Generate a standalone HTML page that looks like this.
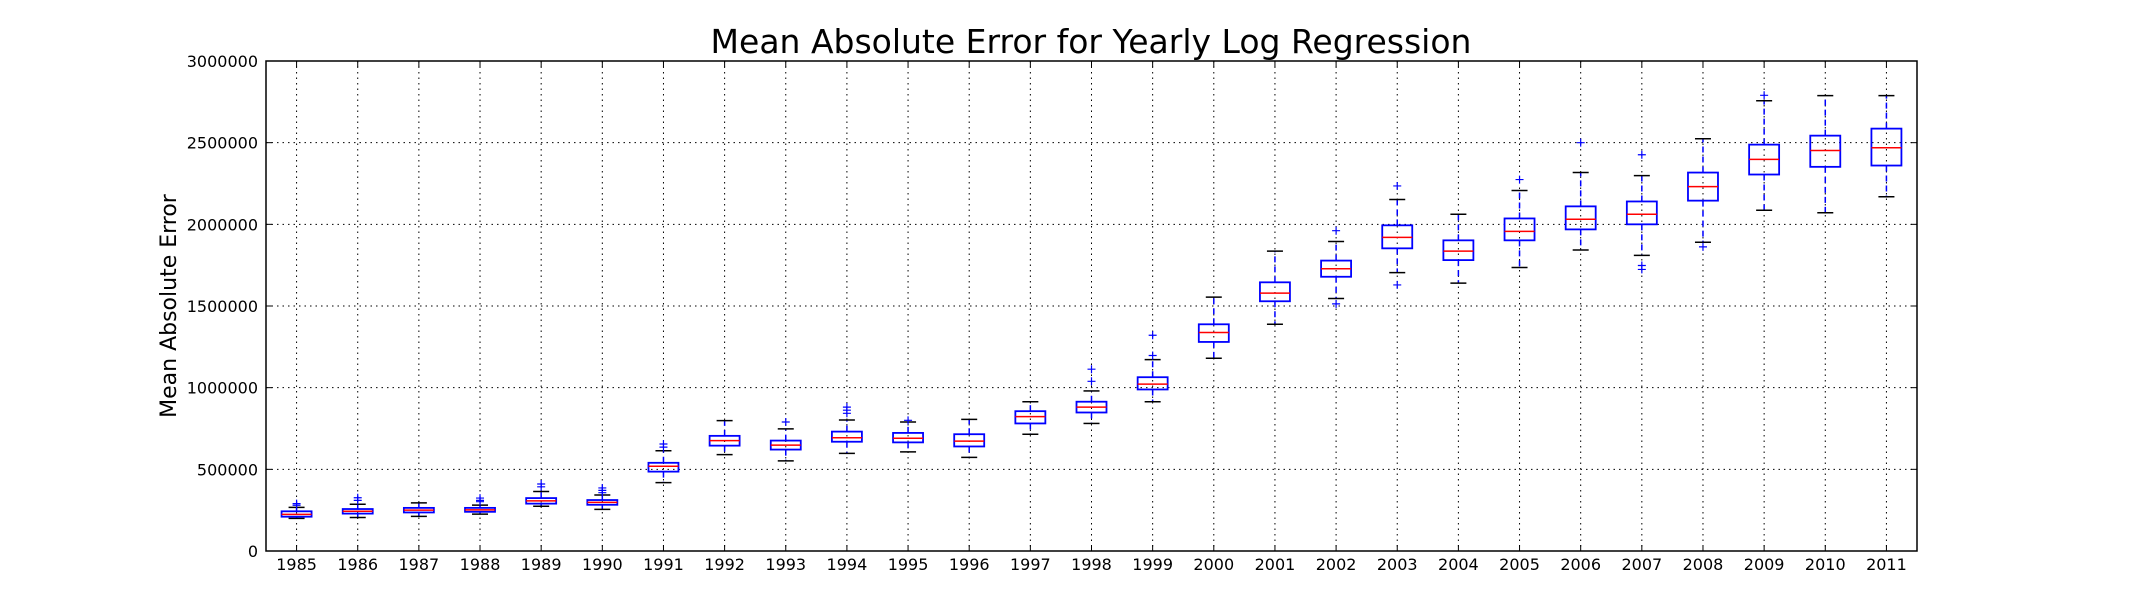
<!DOCTYPE html>
<html><head><meta charset="utf-8"><style>
html,body{margin:0;padding:0;background:#fff}
svg{display:block}
text{font-family:"DejaVu Sans","Liberation Sans",sans-serif;fill:#000}
</style></head><body>
<svg id="chart" width="2130" height="612" viewBox="0 0 2130 612" xmlns="http://www.w3.org/2000/svg">
<rect x="0" y="0" width="2130" height="612" fill="#fff"/>
<text x="1091" y="53" font-size="33" text-anchor="middle">Mean Absolute Error for Yearly Log Regression</text>
<text transform="translate(176,306) rotate(-90)" font-size="22" text-anchor="middle">Mean Absolute Error</text>
<g id="grid"></g>
<g id="ticks"></g>
<g id="boxes"></g>
<rect x="266" y="61" width="1651" height="490" fill="none" stroke="#000" stroke-width="1.5"/>
</svg>
<script>
const years = [1985,1986,1987,1988,1989,1990,1991,1992,1993,1994,1995,1996,1997,1998,1999,2000,2001,2002,2003,2004,2005,2006,2007,2008,2009,2010,2011];
const whiskerLow = [200000,205000,212000,226000,274000,255000,419000,590000,552000,598000,607000,573000,715000,781000,914000,1180000,1388000,1546000,1704000,1640000,1736000,1843000,1810000,1890000,2086000,2071000,2169000];
const q1 = [210000,229000,236000,240000,290000,283000,486000,645000,621000,669000,665000,640000,781000,848000,989000,1280000,1529000,1679000,1853000,1781000,1902000,1969000,2000000,2145000,2305000,2352000,2360000];
const medians = [224000,243000,250000,252000,307000,298000,519000,676000,648000,693000,690000,673000,823000,881000,1022000,1338000,1579000,1728000,1920000,1836000,1957000,2031000,2062000,2231000,2398000,2452000,2469000];
const q3 = [243000,257000,264000,264000,324000,312000,540000,705000,676000,731000,723000,715000,856000,914000,1064000,1388000,1645000,1778000,1994000,1902000,2036000,2110000,2140000,2317000,2488000,2543000,2586000];
const whiskerHigh = [267000,286000,295000,281000,364000,343000,614000,798000,748000,802000,790000,806000,914000,980000,1172000,1554000,1836000,1895000,2152000,2062000,2207000,2317000,2298000,2524000,2757000,2788000,2788000];
const fliers = [[290000,280000],[326000,310000],[],[324000,302000,310000],[393000,410000],[386000,357000,371000],[655000,636000],[],[790000],[881000,862000,843000],[800000],[],[],[1113000,1039000],[1321000,1197000],[],[],[1961000,1513000],[2235000,1629000],[],[2274000],[2500000],[2426000,1748000,1724000],[1862000],[2790000],[],[]];
const yTicks = [0,500000,1000000,1500000,2000000,2500000,3000000];
const yTickLabels = ["0","500000","1000000","1500000","2000000","2500000","3000000"];

const L=266,R=1917,T=61,B=551,YMAX=3000000;
const NS="http://www.w3.org/2000/svg";
function xPos(i){return L+(i+1-0.5)*(R-L)/years.length;}
function yPos(v){return B-(v/YMAX)*(B-T);}
function mk(tag,attrs,parent){const e=document.createElementNS(NS,tag);for(const k in attrs)e.setAttribute(k,attrs[k]);parent.appendChild(e);return e;}
const grid=document.getElementById('grid'),ticks=document.getElementById('ticks'),boxes=document.getElementById('boxes');
yTicks.forEach((v,i)=>{
  const y=yPos(v);
  if(i>0&&i<yTicks.length-1){const g=mk('line',{x1:L,x2:R,y1:y,y2:y,stroke:'#000','stroke-width':1,'stroke-dasharray':'1.5,4'},grid);
  
  }
  const t=mk('text',{x:L-8,y:y+6,'font-size':16,'text-anchor':'end'},ticks);
  
  
  t.textContent=yTickLabels[i];
  mk('line',{x1:L,x2:L+6,y1:y,y2:y,stroke:'#000','stroke-width':1},ticks);
  mk('line',{x1:R-6,x2:R,y1:y,y2:y,stroke:'#000','stroke-width':1},ticks);
});
years.forEach((yr,i)=>{
  const x=xPos(i);
  const g=mk('line',{x1:x,x2:x,y1:T,y2:B,stroke:'#000','stroke-width':1,'stroke-dasharray':'1.5,4'},grid);
  
  
  const t=mk('text',{x:x,y:570,'font-size':16,'text-anchor':'middle'},ticks);
  
  
  t.textContent=yr;
  mk('line',{x1:x,x2:x,y1:B,y2:B-6,stroke:'#000','stroke-width':1},ticks);
  mk('line',{x1:x,x2:x,y1:T,y2:T+6,stroke:'#000','stroke-width':1},ticks);
  const grp=mk('g',{},boxes);
  
  
  const hw=15,cw=8;
  mk('line',{x1:x,x2:x,y1:yPos(q3[i]),y2:yPos(whiskerHigh[i]),stroke:'#00f','stroke-width':1.5,'stroke-dasharray':'6,4'},grp);
  mk('line',{x1:x,x2:x,y1:yPos(q1[i]),y2:yPos(whiskerLow[i]),stroke:'#00f','stroke-width':1.5,'stroke-dasharray':'6,4'},grp);
  mk('line',{x1:x-cw,x2:x+cw,y1:yPos(whiskerHigh[i]),y2:yPos(whiskerHigh[i]),stroke:'#000','stroke-width':1.5},grp);
  mk('line',{x1:x-cw,x2:x+cw,y1:yPos(whiskerLow[i]),y2:yPos(whiskerLow[i]),stroke:'#000','stroke-width':1.5},grp);
  mk('rect',{x:x-hw,y:yPos(q3[i]),width:2*hw,height:yPos(q1[i])-yPos(q3[i]),fill:'none',stroke:'#00f','stroke-width':1.8},grp);
  mk('line',{x1:x-hw,x2:x+hw,y1:yPos(medians[i]),y2:yPos(medians[i]),stroke:'#f00','stroke-width':1.5},grp);
  fliers[i].forEach(v=>{
    const fy=yPos(v);
    mk('path',{d:`M${x-4},${fy}H${x+4}M${x},${fy-4}V${fy+4}`,stroke:'#00f','stroke-width':1.2,fill:'none'},grp);
  });
});
</script>
</body></html>
